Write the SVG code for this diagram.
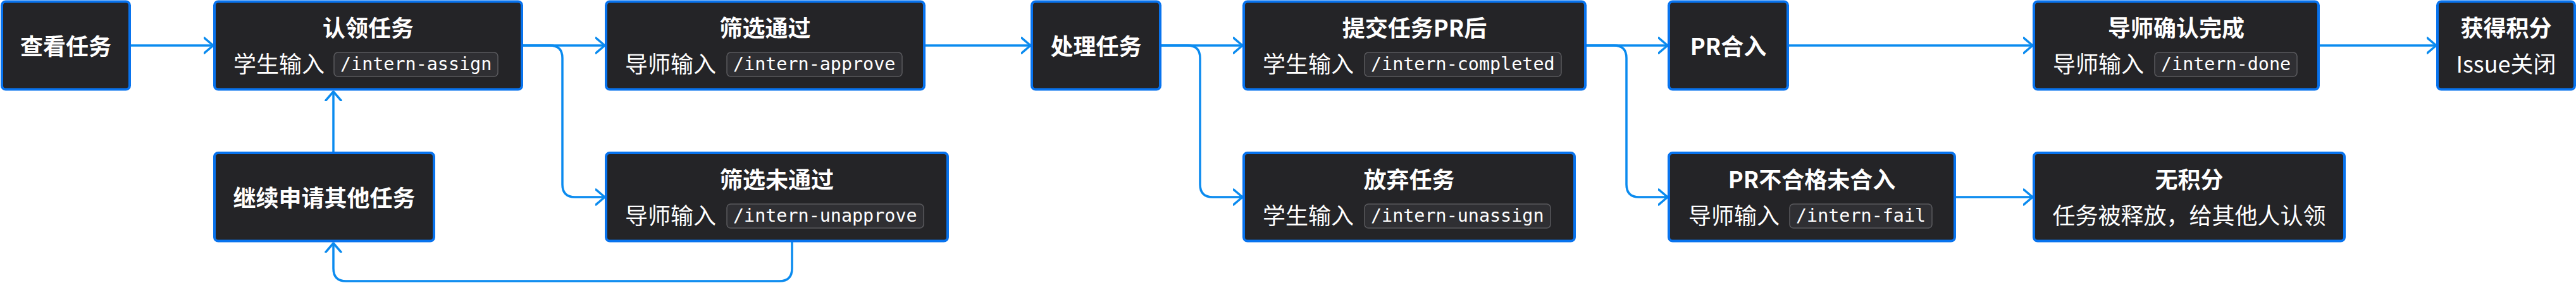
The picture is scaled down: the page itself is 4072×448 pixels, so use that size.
<svg xmlns="http://www.w3.org/2000/svg" width="4072" height="448" viewBox="0 0 4072 448">
<style>
.nb{fill:#242427;stroke:#0873ee;stroke-width:4}
.t{font-family:"Noto Sans CJK SC","Noto Sans",sans-serif;font-size:36px;font-weight:700;fill:#ffffff;text-anchor:middle}
.s{font-family:"Noto Sans CJK SC","Noto Sans",sans-serif;font-size:36px;font-weight:400;fill:#ffffff}
.sm{text-anchor:middle}
.cb{fill:#2f2f33;stroke:#5a5a5e;stroke-width:1.5}
.c{font-family:"DejaVu Sans Mono",monospace;font-size:28.4px;fill:#ffffff}
.e{fill:none;stroke:#0b8bef;stroke-width:3.5;marker-end:url(#ah)}
</style>
<defs>
<marker id="ah" markerUnits="userSpaceOnUse" markerWidth="30" markerHeight="30" viewBox="0 0 30 30" refX="15" refY="15" orient="auto">
<path d="M1,3 L15,15 L1,27" fill="none" stroke="#0b8bef" stroke-width="3.5" stroke-linecap="round" stroke-linejoin="round"/>
</marker>
</defs>
<rect width="4072" height="448" fill="#ffffff"/>
<g id="connectors">
<path class="e" d="M205,72 H337"/>
<path class="e" d="M825,72 H956"/>
<path class="e" d="M825,72 H869 Q889,72 889,92 V292 Q889,312 909,312 H956"/>
<path class="e" d="M527,240 V145"/>
<path class="e" d="M1252,382 V425 Q1252,445 1232,445 H547 Q527,445 527,425 V385"/>
<path class="e" d="M1461,72 H1629"/>
<path class="e" d="M1834,72 H1964"/>
<path class="e" d="M1834,72 H1877 Q1897,72 1897,92 V292 Q1897,312 1917,312 H1964"/>
<path class="e" d="M2506,72 H2636"/>
<path class="e" d="M2506,72 H2551 Q2571,72 2571,92 V292 Q2571,312 2591,312 H2636"/>
<path class="e" d="M2826,72 H3213"/>
<path class="e" d="M3090,312 H3213"/>
<path class="e" d="M3665,72 H3851"/>
</g>
<g id="n1">
<rect class="nb" x="3" y="2.5" width="202" height="139" rx="6"/>
<text class="t" x="104" y="87">查看任务</text>
</g>
<g id="n2">
<rect class="nb" x="339" y="2.5" width="486" height="139" rx="6"/>
<text class="t" x="582" y="58">认领任务</text>
<text class="s" x="369" y="115">学生输入</text>
<rect class="cb" x="528" y="83" width="259" height="38" rx="6"/>
<text class="c" x="538" y="111">/intern-assign</text>
</g>
<g id="n3">
<rect class="nb" x="339" y="242" width="347" height="139.5" rx="6"/>
<text class="t" x="512.5" y="327">继续申请其他任务</text>
</g>
<g id="n4">
<rect class="nb" x="958" y="2.5" width="503" height="139" rx="6"/>
<text class="t" x="1209.5" y="58">筛选通过</text>
<text class="s" x="988" y="115">导师输入</text>
<rect class="cb" x="1149" y="83" width="277" height="38" rx="6"/>
<text class="c" x="1159" y="111">/intern-approve</text>
</g>
<g id="n5">
<rect class="nb" x="958" y="242" width="540" height="139.5" rx="6"/>
<text class="t" x="1228" y="298">筛选未通过</text>
<text class="s" x="988" y="355">导师输入</text>
<rect class="cb" x="1149" y="323" width="311" height="38" rx="6"/>
<text class="c" x="1159" y="351">/intern-unapprove</text>
</g>
<g id="n6">
<rect class="nb" x="1631" y="2.5" width="203" height="139" rx="6"/>
<text class="t" x="1732.5" y="87">处理任务</text>
</g>
<g id="n7">
<rect class="nb" x="1966" y="2.5" width="540" height="139" rx="6"/>
<text class="t" x="2236" y="58">提交任务PR后</text>
<text class="s" x="1996" y="115">学生输入</text>
<rect class="cb" x="2157" y="83" width="311" height="38" rx="6"/>
<text class="c" x="2167" y="111">/intern-completed</text>
</g>
<g id="n8">
<rect class="nb" x="1966" y="242" width="523" height="139.5" rx="6"/>
<text class="t" x="2227.5" y="298">放弃任务</text>
<text class="s" x="1996" y="355">学生输入</text>
<rect class="cb" x="2157" y="323" width="294" height="38" rx="6"/>
<text class="c" x="2167" y="351">/intern-unassign</text>
</g>
<g id="n9">
<rect class="nb" x="2638" y="2.5" width="188" height="139" rx="6"/>
<text class="t" x="2732" y="87">PR合入</text>
</g>
<g id="n10">
<rect class="nb" x="2638" y="242" width="452" height="139.5" rx="6"/>
<text class="t" x="2864" y="298">PR不合格未合入</text>
<text class="s" x="2669" y="355">导师输入</text>
<rect class="cb" x="2829" y="323" width="225" height="38" rx="6"/>
<text class="c" x="2839" y="351">/intern-fail</text>
</g>
<g id="n11">
<rect class="nb" x="3215" y="2.5" width="450" height="139" rx="6"/>
<text class="t" x="3440" y="58">导师确认完成</text>
<text class="s" x="3245" y="115">导师输入</text>
<rect class="cb" x="3406" y="83" width="225" height="38" rx="6"/>
<text class="c" x="3416" y="111">/intern-done</text>
</g>
<g id="n12">
<rect class="nb" x="3215" y="242" width="491" height="139.5" rx="6"/>
<text class="t" x="3460.5" y="298">无积分</text>
<text class="s sm" x="3460.5" y="355">任务被释放，给其他人认领</text>
</g>
<g id="n13">
<rect class="nb" x="3853" y="2.5" width="217" height="139" rx="6"/>
<text class="t" x="3961.5" y="58">获得积分</text>
<text class="s sm" x="3961.5" y="115">Issue关闭</text>
</g>
</svg>
